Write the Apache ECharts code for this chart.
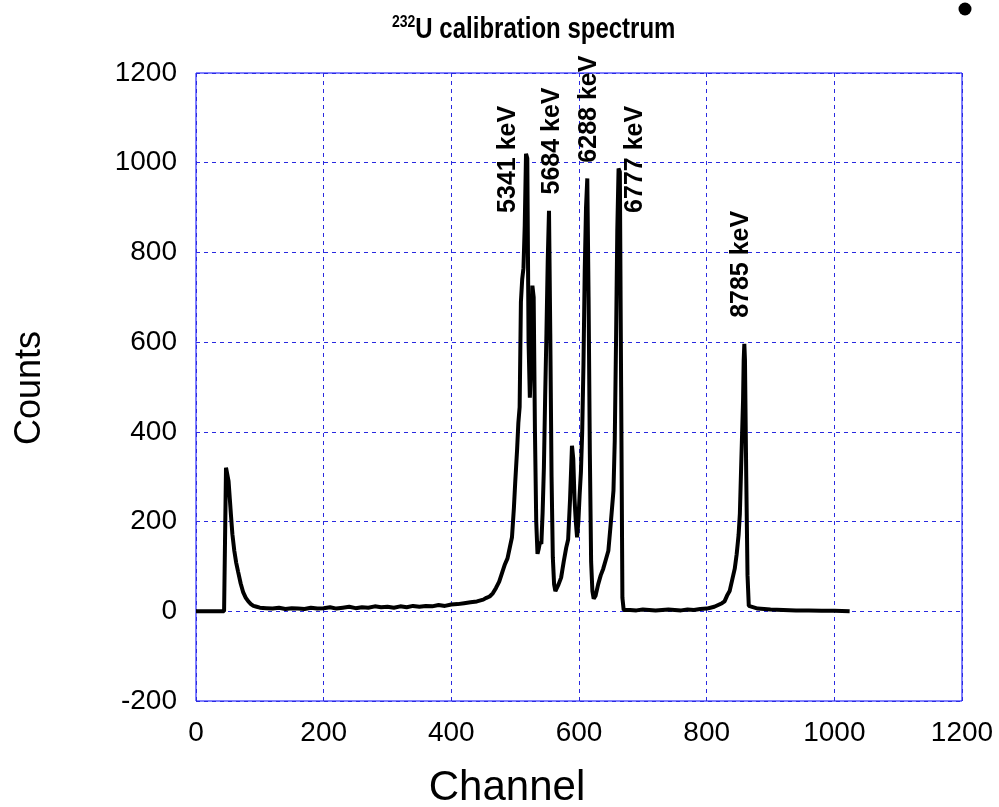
<!DOCTYPE html>
<html>
<head>
<meta charset="utf-8">
<script src="https://cdn.jsdelivr.net/npm/echarts@6/dist/echarts.min.js"></script>
<style>
html,body{margin:0;padding:0;background:#fff;}
#chart{width:999px;height:807px;}
</style>
</head>
<body>
<div id="chart"></div>
<script>
// Spectrum data (channel, counts)
var channels = [0, 44, 46, 47, 49, 51, 53, 55, 57, 60, 63, 66, 70, 74, 78, 82, 86, 90, 95, 100,
  110, 120, 130, 140, 150, 160, 170, 180, 190, 200, 210, 220, 230, 240, 250, 260, 270, 280, 290, 300,
  310, 320, 330, 340, 350, 360, 370, 380, 390, 400, 410, 420, 430, 440, 450, 455, 460, 465, 470, 475,
  480, 484, 488, 492, 495, 498, 500, 503, 505, 507, 509, 511, 513, 515, 517, 519, 521, 523, 525, 527,
  529, 531, 533, 535, 537, 539, 541, 543, 545, 547, 549, 551, 553, 555, 557, 559, 561, 563, 565, 568,
  572, 576, 580, 583, 586, 589, 591, 593, 595, 597, 599, 601, 603, 605, 607, 609, 611, 613, 615, 617,
  619, 621, 623, 626, 630, 634, 638, 642, 646, 650, 654, 656, 658, 660, 662, 664, 666, 668, 670, 680,
  690, 700, 710, 720, 730, 740, 750, 760, 770, 780, 790, 800, 806, 812, 818, 824, 828, 832, 836, 840,
  844, 847, 850, 852, 854, 856, 857, 858, 859, 860, 862, 864, 866, 868, 880, 900, 920, 940, 960, 980,
  1000, 1024];
var counts = [0, 0, 0, 320, 318, 290, 250, 210, 172, 135, 108, 88, 62, 42, 30, 22, 16, 12, 10, 8,
  7, 6, 8, 5, 7, 6, 5, 8, 6, 7, 9, 6, 8, 10, 7, 9, 8, 11, 9, 10,
  8, 11, 9, 12, 10, 12, 11, 14, 12, 15, 16, 18, 20, 22, 26, 30, 33, 40, 52, 66,
  88, 105, 118, 145, 165, 230, 285, 360, 420, 455, 690, 740, 765, 860, 1020, 1010, 600, 476, 560, 726,
  700, 400, 200, 128, 140, 155, 150, 220, 320, 480, 620, 780, 893, 620, 300, 120, 60, 45, 42, 60,
  75, 110, 142, 160, 250, 369, 340, 250, 200, 165, 200, 260, 310, 400, 550, 760, 900, 965, 700, 350,
  110, 45, 28, 35, 60, 80, 95, 115, 135, 200, 269, 380, 600, 850, 987, 980, 500, 30, 3, 3,
  2, 4, 3, 2, 3, 4, 3, 2, 4, 3, 5, 6, 8, 10, 14, 18, 22, 35, 45, 70,
  95, 127, 170, 217, 321, 420, 470, 560, 596, 560, 300, 80, 12, 8, 6, 4, 3, 2, 2, 1,
  1, 0];

// Peak annotations (text and the data point where the text starts)
var peakLabels = ['5341 keV', '5684 keV', '6288 keV', '6777 keV', '8785 keV'];
var peakLabelChannels = [489, 559, 617, 689, 855];
var peakLabelCounts = [887, 928, 999, 887, 653];

var chart = echarts.init(document.getElementById('chart'), null, {renderer: 'canvas'});
var FONT = 'Liberation Sans, Arial, Helvetica, sans-serif';
var gridColor = '#2a2ae0';

var option = {
  animation: false,
  backgroundColor: '#ffffff',
  grid: {
    left: 196, right: 37, top: 73, bottom: 106,
    show: true, borderColor: '#0000ff', borderWidth: 1, backgroundColor: 'transparent'
  },
  xAxis: {
    type: 'value', min: 0, max: 1200, interval: 200,
    axisLine: {show: false}, axisTick: {show: false},
    axisLabel: {fontFamily: FONT, fontSize: 28, color: '#000', margin: 18,
      formatter: function (v) { return String(v); }},
    splitLine: {show: true, lineStyle: {color: gridColor, type: [4, 4], width: 1}}
  },
  yAxis: {
    type: 'value', min: -200, max: 1200, interval: 200,
    axisLine: {show: false}, axisTick: {show: false},
    axisLabel: {fontFamily: FONT, fontSize: 28, color: '#000', margin: 19,
      formatter: function (v) { return String(v); }},
    splitLine: {show: true, lineStyle: {color: gridColor, type: [4, 4], width: 1}}
  },
  graphic: [
    {type: 'text', x: 392, y: 14, scaleY: 1.2,
      style: {text: '{sup|232}{main|U calibration spectrum}', x: 0, y: 0,
        rich: {
          sup: {fontSize: 14, fontWeight: 'bold', fill: '#000', verticalAlign: 'top', fontFamily: FONT},
          main: {fontSize: 24, fontWeight: 'bold', fill: '#000', lineHeight: 26, fontFamily: FONT}
        }}},
    {type: 'text', style: {text: 'Channel', x: 507, y: 788, align: 'center', verticalAlign: 'middle',
      font: '42px ' + FONT, fill: '#000'}},
    {type: 'text', rotation: Math.PI / 2, x: 30, y: 388,
      style: {text: 'Counts', x: 0, y: 0, align: 'center', verticalAlign: 'middle',
      font: '36px ' + FONT, fill: '#000'}},
    {type: 'circle', shape: {cx: 965, cy: 9, r: 6.5}, style: {fill: '#000'}}
  ],
  series: [
    {
      type: 'line',
      data: channels.map(function (c, i) { return [c, counts[i]]; }),
      showSymbol: false, symbol: 'none',
      lineStyle: {color: '#000', width: 4},
      z: 3
    },
    {
      type: 'scatter',
      data: peakLabelChannels.map(function (c, i) { return [c, peakLabelCounts[i], peakLabels[i]]; }),
      symbolSize: 1,
      itemStyle: {color: 'rgba(0,0,0,0)'},
      label: {
        show: true,
        formatter: function (p) { return p.data[2]; },
        position: [0, 0],
        rotate: 90,
        align: 'left',
        verticalAlign: 'middle',
        fontFamily: FONT,
        fontWeight: 'bold',
        fontSize: 25,
        color: '#000000',
        textBorderWidth: 0,
        textBorderColor: 'transparent',
        opacity: 1
      },
      z: 4
    }
  ]
};
chart.setOption(option);
</script>
</body>
</html>
